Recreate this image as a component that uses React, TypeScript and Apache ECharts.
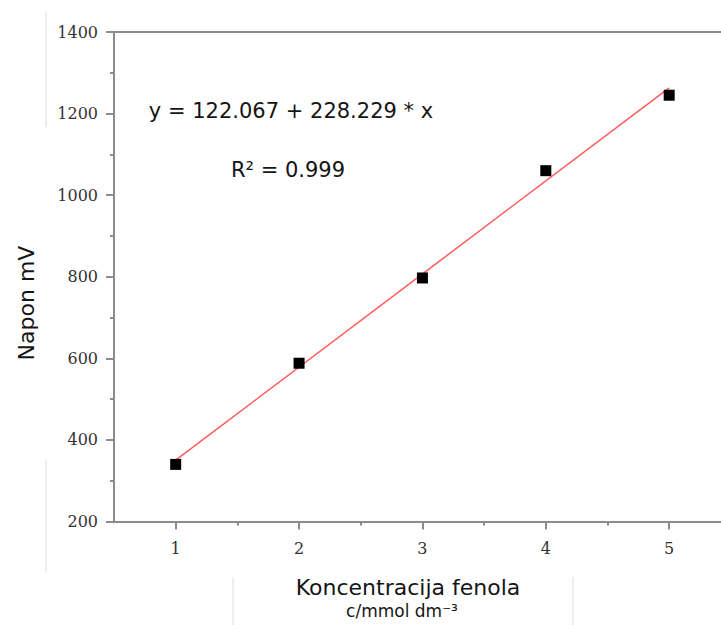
import React, { useEffect, useRef } from "react";
import * as echarts from "echarts";

const concentrations = [1, 2, 3, 4, 5];
const voltages = [340, 588, 797, 1060, 1245];
const fitIntercept = 122.067;
const fitSlope = 228.229;
const xTickValues = [1, 2, 3, 4, 5];
const xMinorTickValues = [1.5, 2.5, 3.5, 4.5];
const equationText = "y = 122.067 + 228.229 * x";
const r2Text = "R² = 0.999";
const xTitle = "Koncentracija fenola";
const xSubTitle = "c/mmol dm⁻³";
const yTitle = "Napon mV";

export default function App() {
  const ref = useRef<HTMLDivElement>(null);

  useEffect(() => {
    document.body.style.margin = "0";
    if (!ref.current) return;
    const chart = echarts.init(ref.current, null, { renderer: "svg" });

    const scatterData = concentrations.map((c, i) => [c, voltages[i]]);
    const xStart = concentrations[0];
    const xEnd = concentrations[concentrations.length - 1];
    const fitData = [
      [xStart, fitIntercept + fitSlope * xStart],
      [xEnd, fitIntercept + fitSlope * xEnd],
    ];

    const axisGray = "#8c8c8c";
    const labelFont = {
      fontFamily: "DejaVu Serif",
      fontSize: 16,
      color: "#333333",
    };
    const xMin = 0.5;
    const xMax = 5.42;

    chart.setOption({
      animation: false,
      backgroundColor: "#ffffff",
      grid: {
        left: 114,
        top: 32,
        right: 0,
        height: 489.5,
        show: false,
      },
      xAxis: [
        {
          type: "value",
          min: xMin,
          max: xMax,
          position: "bottom",
          axisLine: { show: true, lineStyle: { color: axisGray, width: 2 } },
          axisTick: {
            show: true,
            inside: false,
            length: 8,
            customValues: xTickValues,
            lineStyle: { color: axisGray, width: 2 },
          },
          axisLabel: {
            ...labelFont,
            margin: 19,
            customValues: xTickValues,
          },
          splitLine: { show: false },
        },
        {
          type: "value",
          min: xMin,
          max: xMax,
          position: "bottom",
          gridIndex: 0,
          axisLine: { show: false },
          axisTick: {
            show: true,
            inside: false,
            length: 4,
            customValues: xMinorTickValues,
            lineStyle: { color: axisGray, width: 2 },
          },
          axisLabel: { show: false },
          splitLine: { show: false },
        },
        {
          type: "value",
          min: xMin,
          max: xMax,
          position: "top",
          gridIndex: 0,
          axisLine: { show: true, lineStyle: { color: axisGray, width: 2 } },
          axisTick: { show: false },
          axisLabel: { show: false },
          splitLine: { show: false },
        },
      ],
      yAxis: {
        type: "value",
        min: 200,
        max: 1400,
        interval: 200,
        axisLine: { show: true, lineStyle: { color: axisGray, width: 2 } },
        axisTick: {
          show: true,
          inside: false,
          length: 8,
          lineStyle: { color: axisGray, width: 2 },
        },
        minorTick: {
          show: true,
          splitNumber: 2,
          length: 4,
          lineStyle: { color: axisGray, width: 2 },
        },
        axisLabel: {
          ...labelFont,
          margin: 16,
          formatter: (v: number) => String(v),
        },
        splitLine: { show: false },
        minorSplitLine: { show: false },
      },
      series: [
        {
          type: "line",
          data: fitData,
          symbol: "none",
          lineStyle: { color: "#ff5a5a", width: 1.5 },
          z: 2,
          silent: true,
        },
        {
          type: "scatter",
          data: scatterData,
          symbol: "rect",
          symbolSize: 11,
          itemStyle: { color: "#000000", opacity: 1 },
          z: 3,
        },
      ],
      graphic: [
        {
          type: "line",
          shape: { x1: 46, y1: 12, x2: 46, y2: 127 },
          style: { stroke: "#dddddd", lineWidth: 1 },
          silent: true,
        },
        {
          type: "line",
          shape: { x1: 46, y1: 460, x2: 46, y2: 572 },
          style: { stroke: "#dddddd", lineWidth: 1 },
          silent: true,
        },
        {
          type: "line",
          shape: { x1: 233, y1: 577, x2: 233, y2: 625 },
          style: { stroke: "#dddddd", lineWidth: 1 },
          silent: true,
        },
        {
          type: "line",
          shape: { x1: 573, y1: 577, x2: 573, y2: 625 },
          style: { stroke: "#dddddd", lineWidth: 1 },
          silent: true,
        },
        {
          type: "text",
          x: 291,
          y: 111,
          style: {
            text: equationText,
            fontFamily: "DejaVu Sans",
            fontSize: 21,
            fill: "#151515",
            align: "center",
            verticalAlign: "middle",
          },
        },
        {
          type: "text",
          x: 288,
          y: 170,
          style: {
            text: r2Text,
            fontFamily: "DejaVu Sans",
            fontSize: 21,
            fill: "#151515",
            align: "center",
            verticalAlign: "middle",
          },
        },
        {
          type: "text",
          x: 408,
          y: 587,
          style: {
            text: xTitle,
            fontFamily: "DejaVu Sans",
            fontSize: 22,
            fill: "#151515",
            align: "center",
            verticalAlign: "middle",
          },
        },
        {
          type: "text",
          x: 402,
          y: 611,
          style: {
            text: xSubTitle,
            fontFamily: "DejaVu Sans",
            fontSize: 17,
            fill: "#151515",
            align: "center",
            verticalAlign: "middle",
          },
        },
        {
          type: "text",
          x: 26,
          y: 303,
          rotation: Math.PI / 2,
          style: {
            text: yTitle,
            fontFamily: "DejaVu Sans",
            fontSize: 22,
            fill: "#151515",
            align: "center",
            verticalAlign: "middle",
          },
        },
      ],
    });

    return () => chart.dispose();
  }, []);

  return <div ref={ref} style={{ width: 721, height: 625 }} />;
}
